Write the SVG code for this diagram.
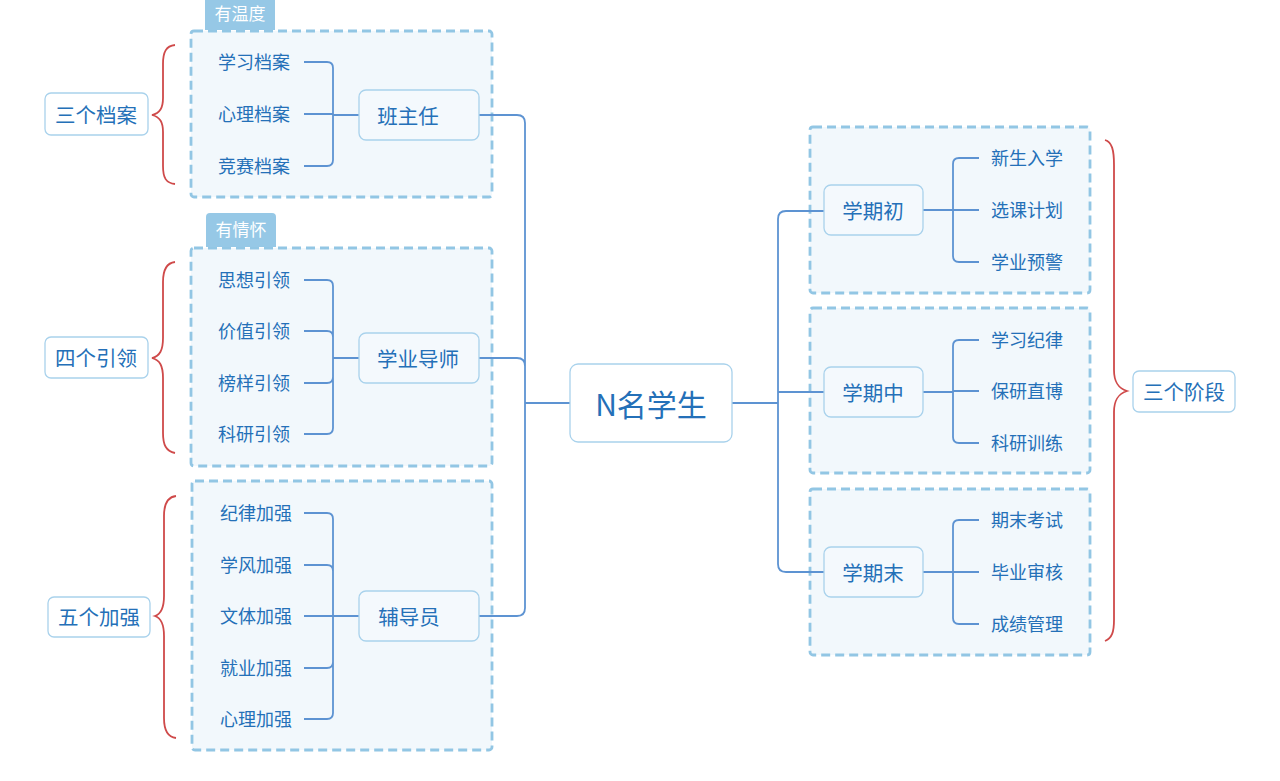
<svg xmlns="http://www.w3.org/2000/svg" width="1280" height="781" viewBox="0 0 1280 781">
<style>
text{font-family:"Noto Sans CJK SC","Noto Sans",sans-serif;fill:#2470b8;dominant-baseline:central}
.bd{fill:#f2f8fc;stroke:#92c6e4;stroke-width:2.8;stroke-dasharray:9 5}
.nd{fill:#f4f9fd;stroke:#a9d2ec;stroke-width:1.3}
.lb{fill:#ffffff;stroke:#a9d2ec;stroke-width:1.3}
.tab{fill:#96c8e6}
.tabt{fill:#ffffff;font-size:17px}
.c{fill:none;stroke:#5d93d2;stroke-width:1.8}
.br{fill:none;stroke:#cf4a4a;stroke-width:1.8}
.ch{font-size:18px}
.m{font-size:20.5px}
</style>
<rect width="1280" height="781" fill="#ffffff"/>
<g id="boundaries">
<rect class="bd" x="191" y="31" width="301" height="166" rx="3"/>
<rect class="bd" x="191" y="248" width="301" height="218" rx="3"/>
<rect class="bd" x="192" y="481" width="300" height="269" rx="3"/>
<rect class="bd" x="810" y="127" width="280" height="166" rx="3"/>
<rect class="bd" x="810" y="308" width="280" height="165" rx="3"/>
<rect class="bd" x="810" y="489" width="280" height="166" rx="3"/>
</g>
<g id="tabs">
<path class="tab" d="M205 -4 H275 V30 H205 Z"/>
<text class="tabt" x="240" y="12" text-anchor="middle">有温度</text>
<path class="tab" d="M206 217 Q206 213 210 213 H272 Q276 213 276 217 V247 H206 Z"/>
<text class="tabt" x="241" y="228" text-anchor="middle">有情怀</text>
</g>
<g id="connectors">
<path class="c" d="M479 115 H517 Q525 115 525 123 V403 M479 358 H517 Q525 358 525 366 V403 M479 616 H517 Q525 616 525 608 V403 M525 403 H570"/>
<path class="c" d="M732 403 H778 M824 211 H786 Q778 211 778 219 V403 M824 392 H778 M824 572 H786 Q778 572 778 564 V403"/>
<path class="c" d="M359 115 H333 M304 62 H327 Q333 62 333 68 V160 Q333 166 327 166 H304 M304 114 H333"/>
<path class="c" d="M359 358 H333 M304 280 H327 Q333 280 333 286 V428 Q333 434 327 434 H304 M304 331 H327 Q333 331 333 337 M304 383 H327 Q333 383 333 377"/>
<path class="c" d="M359 616 H333 M304 513 H327 Q333 513 333 519 V713 Q333 719 327 719 H304 M304 565 H327 Q333 565 333 571 M304 668 H327 Q333 668 333 662 M304 616 H333"/>
<path class="c" d="M923 210 H953 M979 158 H959 Q953 158 953 164 V256 Q953 262 959 262 H979 M953 210 H979"/>
<path class="c" d="M923 392 H953 M979 340 H959 Q953 340 953 346 V437 Q953 443 959 443 H979 M953 391 H979"/>
<path class="c" d="M923 572 H953 M979 520 H959 Q953 520 953 526 V618 Q953 624 959 624 H979 M953 572 H979"/>
</g>
<g id="braces">
<path class="br" d="M175 45 C166 46 163 52 163 64 V98 C163 108 160 113 152 115 C160 117 163 122 163 132 V166 C163 178 166 183 175 184"/>
<path class="br" d="M175 262 C166 263 163 270 163 282 V338 C163 350 160 356 152 358 C160 360 163 366 163 378 V433 C163 445 166 451 175 453"/>
<path class="br" d="M176 496 C167 497 164 504 164 516 V596 C164 608 161 614 155 616 C161 618 164 624 164 636 V718 C164 730 167 737 176 738"/>
<path class="br" d="M1105 140 C1112 142 1114 150 1114 165 V370 C1114 382 1118 388 1127 391 C1118 394 1114 400 1114 412 V620 C1114 632 1112 638 1105 641"/>
</g>
<g id="center"><rect class="lb" x="570" y="364" width="162" height="78" rx="8"/><text x="651" y="403" text-anchor="middle" style="font-size:30px">N名学生</text></g>
<g id="banzhuren"><rect class="nd" x="359" y="90" width="120" height="50" rx="7"/><text class="m" x="408" y="115" text-anchor="middle">班主任</text></g>
<g id="daoshi"><rect class="nd" x="359" y="333" width="120" height="50" rx="7"/><text class="m" x="418" y="358" text-anchor="middle">学业导师</text></g>
<g id="fudaoyuan"><rect class="nd" x="359" y="591" width="120" height="50" rx="7"/><text class="m" x="409" y="616" text-anchor="middle">辅导员</text></g>
<g id="l1"><rect class="lb" x="45" y="93" width="103" height="42" rx="6"/><text class="m" x="96" y="114" text-anchor="middle">三个档案</text></g>
<g id="l2"><rect class="lb" x="45" y="337" width="103" height="41" rx="6"/><text class="m" x="96" y="357" text-anchor="middle">四个引领</text></g>
<g id="l3"><rect class="lb" x="48" y="597" width="102" height="40" rx="6"/><text class="m" x="99" y="616" text-anchor="middle">五个加强</text></g>
<g id="l4"><rect class="lb" x="1133" y="371" width="102" height="41" rx="6"/><text class="m" x="1184" y="391" text-anchor="middle">三个阶段</text></g>
<g id="s1"><rect class="nd" x="824" y="185" width="99" height="50" rx="7"/><text class="m" x="873" y="210" text-anchor="middle">学期初</text></g>
<g id="s2"><rect class="nd" x="824" y="367" width="99" height="50" rx="7"/><text class="m" x="873" y="392" text-anchor="middle">学期中</text></g>
<g id="s3"><rect class="nd" x="824" y="547" width="99" height="50" rx="7"/><text class="m" x="873" y="572" text-anchor="middle">学期末</text></g>
<g id="leaves">
<text class="ch" x="254" y="61" text-anchor="middle">学习档案</text>
<text class="ch" x="254" y="113" text-anchor="middle">心理档案</text>
<text class="ch" x="254" y="165" text-anchor="middle">竞赛档案</text>
<text class="ch" x="254" y="279" text-anchor="middle">思想引领</text>
<text class="ch" x="254" y="330" text-anchor="middle">价值引领</text>
<text class="ch" x="254" y="382" text-anchor="middle">榜样引领</text>
<text class="ch" x="254" y="433" text-anchor="middle">科研引领</text>
<text class="ch" x="256" y="512" text-anchor="middle">纪律加强</text>
<text class="ch" x="256" y="564" text-anchor="middle">学风加强</text>
<text class="ch" x="256" y="615" text-anchor="middle">文体加强</text>
<text class="ch" x="256" y="667" text-anchor="middle">就业加强</text>
<text class="ch" x="256" y="718" text-anchor="middle">心理加强</text>
<text class="ch" x="1027" y="157" text-anchor="middle">新生入学</text>
<text class="ch" x="1027" y="209" text-anchor="middle">选课计划</text>
<text class="ch" x="1027" y="261" text-anchor="middle">学业预警</text>
<text class="ch" x="1027" y="339" text-anchor="middle">学习纪律</text>
<text class="ch" x="1027" y="390" text-anchor="middle">保研直博</text>
<text class="ch" x="1027" y="442" text-anchor="middle">科研训练</text>
<text class="ch" x="1027" y="519" text-anchor="middle">期末考试</text>
<text class="ch" x="1027" y="571" text-anchor="middle">毕业审核</text>
<text class="ch" x="1027" y="623" text-anchor="middle">成绩管理</text>
</g>
</svg>
